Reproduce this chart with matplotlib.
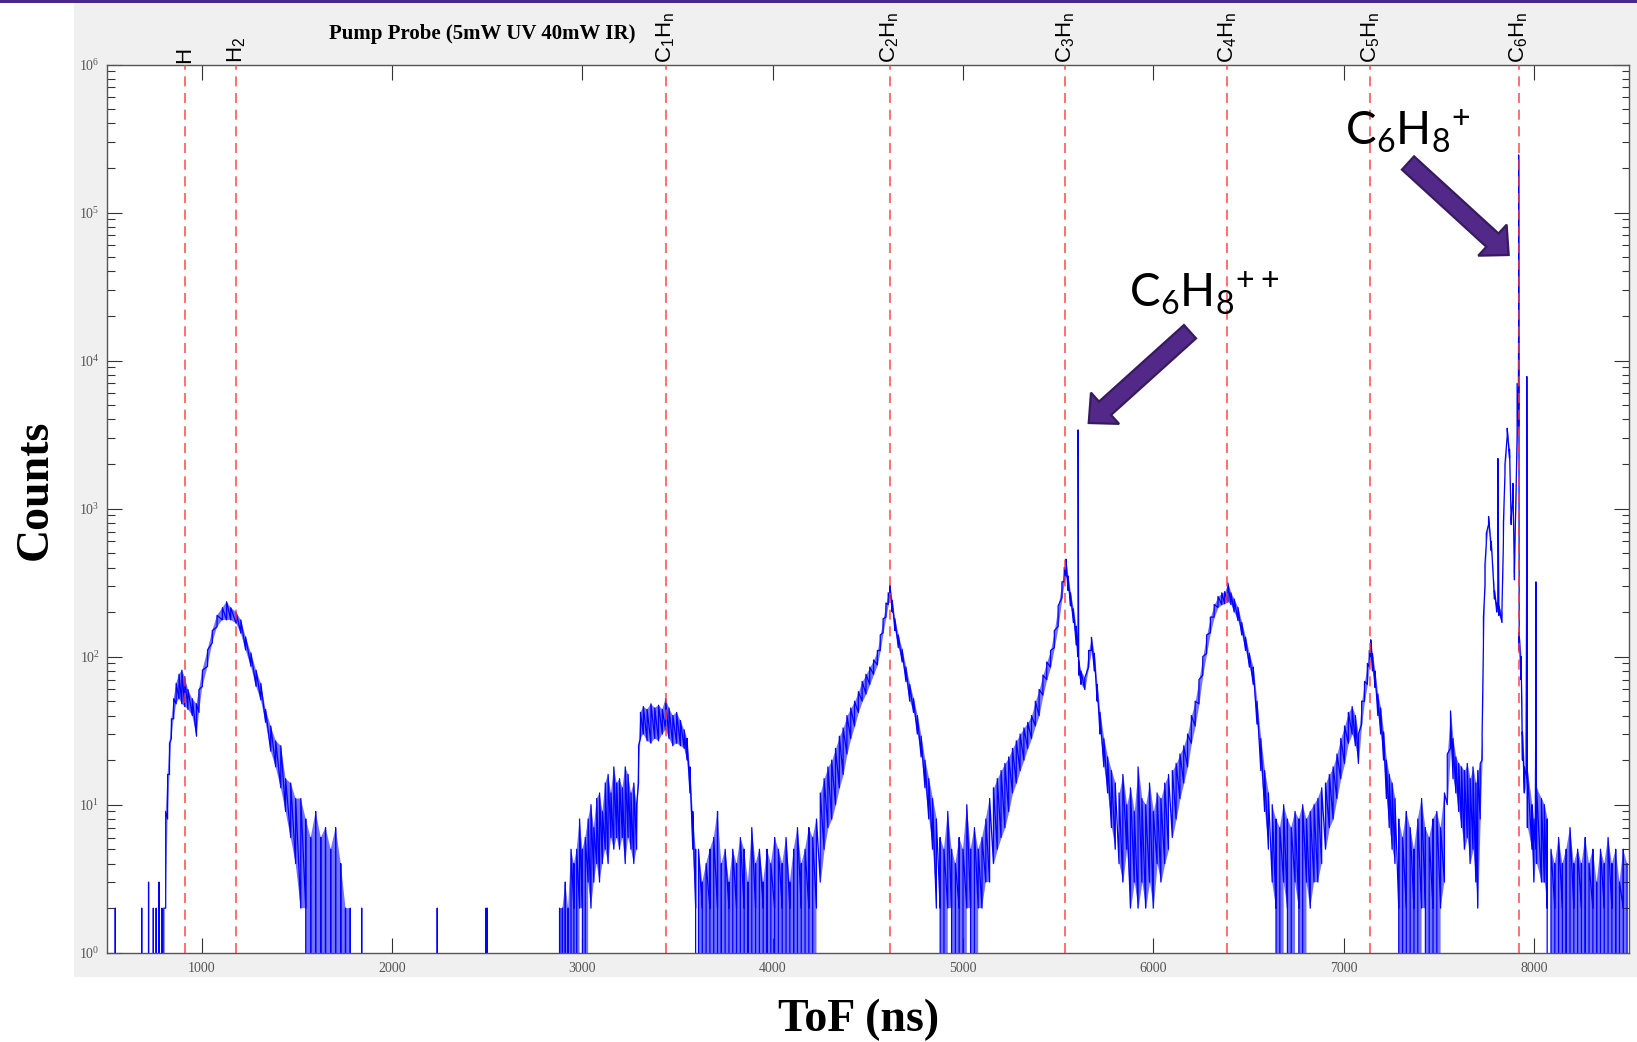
#!/usr/bin/env python3
"""
Pump-probe time-of-flight spectrum (5mW UV / 40mW IR).

Counts vs ToF on a log axis, with the H, H2 and CnHm fragment
positions marked and the C6H8+ / C6H8++ parent ions pointed out.
"""

import numpy as np
import matplotlib
matplotlib.use("Agg")
import matplotlib.pyplot as plt
from matplotlib.patches import FancyArrow, Rectangle
from matplotlib.ticker import LogLocator, NullFormatter

# Spectrum. For every ToF sample (ns) the upper and
# lower edge of the noise band in counts; 0 means an empty bin.

# single counts before the H edge
PRE_TOF = [545, 585, 684, 720, 745, 760, 775, 790, 800]
PRE_HI = [2, 0, 2, 3, 2, 2, 3, 2, 2]
PRE_LO = [0, 0, 0, 0, 0, 0, 0, 0, 0]

# H / H2 hump
H_TOF = [810, 820, 830, 840, 852, 865, 880, 895, 910, 927,
         950, 972, 985, 1003, 1030, 1055, 1080, 1108, 1130, 1152,
         1180, 1205, 1230, 1258, 1285, 1310, 1335, 1362, 1388, 1415,
         1440, 1467, 1493, 1520, 1546, 1572, 1598, 1625, 1650, 1677,
         1703, 1730, 1755, 1780]
H_HI = [9, 16, 26, 38, 52, 66, 76, 81, 73, 60,
        52, 48, 60, 81, 111, 150, 190, 214, 235, 214,
        200, 177, 136, 106, 81, 66, 44, 34, 27, 25,
        15, 14, 11, 11, 8, 6, 9, 6, 7, 5,
        7, 4, 2, 2]
H_LO = [2, 8, 16, 28, 38, 48, 52, 48, 46, 44,
        40, 29, 42, 63, 86, 124, 159, 177, 177, 177,
        168, 144, 111, 86, 63, 51, 36, 23, 18, 13,
        9, 6, 4, 2, 2, 0, 0, 0, 0, 0,
        0, 0, 0, 0]

# stray single counts in the empty stretch
STRAY_TOF = [1800, 1840, 1880, 2237, 2493, 2500, 2860]
STRAY_HI = [0, 2, 0, 2, 2, 2, 0]
STRAY_LO = [0, 0, 0, 0, 0, 0, 0]

# C1Hn plateau
C1_TOF = [2880, 2895, 2910, 2925, 2940, 2955, 2970, 2985, 3000, 3015,
          3030, 3045, 3060, 3075, 3090, 3105, 3120, 3135, 3150, 3165,
          3180, 3195, 3210, 3225, 3240, 3255, 3270, 3285, 3295, 3305,
          3320, 3340, 3360, 3380, 3400, 3420, 3437, 3455, 3475, 3495,
          3515, 3535, 3550, 3565, 3580, 3595]
C1_HI = [2, 2, 3, 2, 5, 4, 5, 8, 5, 6,
         8, 10, 7, 11, 12, 9, 14, 16, 12, 18,
         14, 15, 13, 18, 16, 12, 14, 10, 25, 42,
         46, 44, 48, 45, 47, 44, 52, 45, 40, 42,
         37, 32, 28, 18, 9, 5]
C1_LO = [0, 0, 0, 0, 0, 2, 0, 2, 2, 0,
         3, 2, 3, 4, 3, 4, 5, 4, 6, 5,
         6, 5, 6, 4, 6, 5, 4, 5, 14, 28,
         30, 27, 26, 28, 27, 30, 32, 28, 25, 26,
         25, 24, 20, 12, 5, 2]

# trough C1 -> C2
T1_TOF = [3610, 3630, 3650, 3670, 3690, 3710, 3730, 3750, 3770, 3790,
          3810, 3830, 3850, 3870, 3890, 3910, 3930, 3950, 3970, 3990,
          4010, 4030, 4050, 4070, 4090, 4110, 4130, 4150, 4170, 4190,
          4210, 4230]
T1_HI = [5, 3, 4, 5, 6, 9, 4, 5, 3, 5,
         4, 6, 5, 3, 7, 4, 5, 3, 5, 4,
         6, 5, 4, 6, 3, 5, 7, 4, 5, 7,
         6, 8]
T1_LO = [0, 2, 0, 2, 0, 2, 0, 0, 2, 0,
         2, 0, 2, 0, 0, 2, 0, 2, 0, 0,
         2, 0, 2, 0, 2, 0, 0, 2, 0, 2,
         0, 2]

# C2Hn peak
C2_TOF = [4250, 4270, 4290, 4310, 4330, 4350, 4370, 4390, 4410, 4430,
          4450, 4470, 4490, 4510, 4530, 4550, 4565, 4580, 4595, 4607,
          4616, 4628, 4642, 4660, 4680, 4700, 4720, 4740, 4760, 4780,
          4800, 4820, 4840, 4860]
C2_HI = [12, 15, 18, 20, 24, 29, 33, 40, 45, 50,
         58, 68, 76, 85, 95, 110, 140, 180, 230, 270,
         303, 240, 180, 140, 112, 85, 65, 52, 40, 29,
         20, 15, 11, 8]
C2_LO = [3, 5, 7, 8, 10, 13, 16, 22, 28, 34,
         42, 50, 56, 65, 76, 88, 110, 145, 185, 225,
         250, 200, 150, 115, 92, 68, 50, 42, 30, 21,
         13, 8, 5, 2]

# trough C2 -> C3
T2_TOF = [4880, 4900, 4920, 4940, 4960, 4980, 5000, 5020, 5040, 5060,
          5080, 5100, 5120, 5140]
T2_HI = [6, 5, 9, 5, 4, 6, 5, 10, 5, 7, 5, 6, 8, 11]
T2_LO = [2, 0, 2, 2, 0, 2, 0, 2, 2, 0, 2, 2, 3, 3]

# C3Hn peak with the C6H8++ line on its flank
C3_TOF = [5160, 5180, 5200, 5220, 5240, 5260, 5280, 5300, 5320, 5340,
          5360, 5380, 5400, 5420, 5440, 5460, 5480, 5500, 5520, 5532,
          5541, 5552, 5565, 5580, 5595, 5603, 5605, 5608, 5620, 5640,
          5660, 5675, 5690, 5705, 5720, 5740, 5760, 5780, 5800]
C3_HI = [13, 15, 17, 19, 21, 24, 27, 30, 33, 36,
         40, 50, 60, 75, 92, 110, 150, 220, 320, 400,
         455, 350, 270, 210, 160, 130, 3400, 95, 80, 72,
         110, 135, 105, 65, 42, 28, 21, 17, 14]
C3_LO = [4, 5, 6, 7, 9, 12, 14, 17, 20, 24,
         28, 34, 40, 55, 70, 85, 115, 160, 250, 320,
         350, 280, 220, 170, 120, 100, 100, 75, 65, 60,
         85, 110, 80, 50, 30, 18, 12, 7, 5]

# trough C3 -> C4
T3_TOF = [5820, 5840, 5860, 5880, 5900, 5920, 5940, 5960, 5980, 6000,
          6020, 6040, 6060, 6080]
T3_HI = [12, 16, 10, 13, 9, 18, 11, 10, 14, 9, 12, 11, 14, 16]
T3_LO = [4, 3, 5, 2, 3, 2, 3, 2, 3, 2, 4, 3, 4, 5]

# C4Hn peak
C4_TOF = [6100, 6120, 6140, 6160, 6180, 6200, 6220, 6240, 6260, 6280,
          6300, 6320, 6340, 6360, 6375, 6392, 6408, 6425, 6445, 6465,
          6485, 6505, 6525, 6545, 6565, 6585, 6605]
C4_HI = [17, 19, 22, 25, 30, 40, 50, 70, 100, 140,
         185, 225, 255, 270, 275, 315, 270, 245, 215, 170,
         135, 105, 85, 50, 28, 17, 12]
C4_LO = [6, 8, 11, 14, 18, 26, 34, 48, 75, 105,
         145, 185, 215, 225, 228, 235, 225, 200, 175, 140,
         110, 85, 65, 35, 17, 9, 5]

# trough C4 -> C5
T4_TOF = [6625, 6645, 6665, 6685, 6705, 6725, 6745, 6765, 6785, 6805,
          6825, 6845, 6865, 6885]
T4_HI = [10, 8, 7, 10, 8, 7, 9, 8, 10, 8, 9, 10, 11, 13]
T4_LO = [3, 2, 0, 3, 2, 0, 3, 2, 0, 3, 2, 3, 3, 4]

# C5Hn peak
C5_TOF = [6905, 6925, 6945, 6965, 6985, 7005, 7025, 7045, 7062, 7078,
          7095, 7110, 7125, 7135, 7143, 7152, 7165, 7180, 7195, 7210,
          7225, 7240, 7255, 7270]
C5_HI = [14, 16, 18, 22, 28, 34, 42, 46, 40, 30,
         50, 68, 90, 110, 130, 105, 80, 56, 45, 31,
         20, 16, 14, 11]
C5_LO = [5, 7, 8, 11, 15, 19, 26, 30, 25, 19,
         35, 50, 65, 85, 100, 80, 62, 40, 30, 20,
         11, 7, 5, 4]

# trough C5 -> C6
T5_TOF = [7290, 7310, 7330, 7350, 7370, 7390, 7410, 7430, 7450, 7470,
          7490, 7510, 7530]
T5_HI = [8, 6, 9, 7, 5, 8, 11, 7, 6, 8, 9, 7, 12]
T5_LO = [2, 0, 2, 0, 2, 0, 2, 2, 0, 2, 0, 2, 3]

# C6Hn group, C6H8+ parent line at ~7920 ns
C6_TOF = [7545, 7562, 7575, 7590, 7605, 7620, 7635, 7650, 7665, 7680,
          7695, 7705, 7718, 7728, 7735, 7743, 7750, 7762, 7776, 7793,
          7805, 7811, 7816, 7832, 7840, 7848, 7860, 7872, 7881, 7890,
          7898, 7912, 7920, 7923, 7933, 7940, 7950, 7963, 7966, 7990,
          8000, 8011, 8014, 8040, 8055, 8070]
C6_HI = [22, 43, 28, 21, 19, 18, 17, 19, 15, 18,
         14, 17, 19, 30, 185, 420, 680, 885, 600, 280,
         230, 2180, 220, 200, 800, 1990, 3490, 2520, 860, 1480,
         390, 7000, 245000, 145, 100, 31, 18, 7800, 17, 10,
         8, 320, 13, 11, 10, 8]
C6_LO = [10, 24, 15, 12, 9, 7, 5, 6, 4, 5,
         3, 2, 8, 20, 120, 300, 580, 780, 520, 245,
         200, 210, 190, 170, 600, 1700, 3100, 2200, 780, 1200,
         330, 3000, 3500, 110, 70, 20, 12, 15, 7, 5,
         3, 5, 4, 3, 3, 2]

# noise tail after the parent line
TAIL_TOF = [8090, 8110, 8130, 8150, 8170, 8190, 8210, 8230, 8250, 8270,
            8290, 8310, 8330, 8350, 8370, 8390, 8410, 8430, 8450, 8470,
            8490]
TAIL_HI = [5, 4, 6, 4, 5, 7, 4, 5, 4, 6, 4, 5, 3, 5, 4, 6, 4, 5, 3, 5, 4]
TAIL_LO = [0, 2, 0, 2, 0, 0, 2, 0, 2, 0, 0, 2, 0, 0, 2, 0, 2, 0, 0, 2, 0]

# fragment markers (ns) and their labels
MARK_TOF = [910, 1181, 3437, 4614, 5538, 6389, 7141, 7921]
MARK_LABELS = [r"H", r"$\mathregular{H_2}$",
               r"$\mathregular{C_1H_n}$", r"$\mathregular{C_2H_n}$",
               r"$\mathregular{C_3H_n}$", r"$\mathregular{C_4H_n}$",
               r"$\mathregular{C_5H_n}$", r"$\mathregular{C_6H_n}$"]

X_TICKS = [1000, 2000, 3000, 4000, 5000, 6000, 7000, 8000]
Y_DECADES = [0, 1, 2, 3, 4, 5, 6]

W, H = 1637, 1042
DPI = 100

# (tof, hi, lo, band is filled?)
REGIONS = [(PRE_TOF, PRE_HI, PRE_LO, False), (H_TOF, H_HI, H_LO, True),
           (STRAY_TOF, STRAY_HI, STRAY_LO, False),
           (C1_TOF, C1_HI, C1_LO, True), (T1_TOF, T1_HI, T1_LO, True),
           (C2_TOF, C2_HI, C2_LO, True), (T2_TOF, T2_HI, T2_LO, True),
           (C3_TOF, C3_HI, C3_LO, True), (T3_TOF, T3_HI, T3_LO, True),
           (C4_TOF, C4_HI, C4_LO, True), (T4_TOF, T4_HI, T4_LO, True),
           (C5_TOF, C5_HI, C5_LO, True), (T5_TOF, T5_HI, T5_LO, True),
           (C6_TOF, C6_HI, C6_LO, True), (TAIL_TOF, TAIL_HI, TAIL_LO, True)]


def collect_spectrum():
    """Stitch the regions together in ToF order."""
    tof, hi, lo = [], [], []
    for t, h, l, _ in REGIONS:
        assert len(t) == len(h) == len(l), (t[0], len(t), len(h), len(l))
        tof += t
        hi += h
        lo += l
    tof = np.array(tof, dtype=float)
    assert np.all(np.diff(tof) > 0)
    return tof, np.array(hi, dtype=float), np.array(lo, dtype=float)


def px(x, y):
    """Reference pixel (top-left origin) -> inches for dpi_scale_trans."""
    return x / DPI, (H - y) / DPI


def draw_background(fig):
    """MATLAB-ish grey figure panel with the slide's purple rule on top."""
    fig.add_artist(Rectangle((74 / W, 1 - 977 / H), 1 - 74 / W, 974 / H,
                             transform=fig.transFigure, facecolor="#f0f0f0",
                             edgecolor="none", zorder=-10))
    fig.add_artist(Rectangle((0, 1 - 2.5 / H), 1, 2.5 / H,
                             transform=fig.transFigure, facecolor="#4b2a86",
                             edgecolor="none", zorder=-9))


def add_arrow(fig, tail, tip):
    x0, y0 = px(*tail)
    x1, y1 = px(*tip)
    arrow = FancyArrow(x0, y0, x1 - x0, y1 - y0, width=0.18,
                       head_width=0.42, head_length=0.22,
                       length_includes_head=True,
                       transform=fig.dpi_scale_trans,
                       facecolor="#522889", edgecolor="#361b5e",
                       linewidth=1.6, zorder=20)
    fig.add_artist(arrow)


def main():
    plt.rcParams["font.family"] = ["Liberation Serif", "DejaVu Serif"]

    tof, hi, lo = collect_spectrum()

    fig = plt.figure(figsize=(W / DPI, H / DPI), dpi=DPI)
    fig.patch.set_facecolor("white")
    draw_background(fig)

    ax = fig.add_axes([106.7 / W, 1 - 952.7 / H, 1522.3 / W, 888.2 / H])
    ax.set_facecolor("white")
    ax.set_yscale("log", nonpositive="clip")

    # the noise band between its edges, where the trace is dense
    for t, h, l, filled in REGIONS:
        if filled:
            ax.fill_between(t, l, h, color="#0000ff", alpha=0.55,
                            linewidth=0, zorder=1)

    # each sample drawn as a stroke from the lower to the upper band edge
    xs = np.repeat(tof, 2)
    ys = np.column_stack([lo, hi]).ravel()
    ax.plot(xs, ys, color="#0000ff", lw=0.9, zorder=2)

    for t in MARK_TOF:
        ax.axvline(t, color="#ff3a3a", lw=1.2, alpha=0.85,
                   linestyle=(0, (6, 4)), zorder=3)

    ax.set_xlim(500, 8500)
    ax.set_ylim(1, 1e6)

    ax.set_xticks(X_TICKS, [str(v) for v in X_TICKS])
    ax.set_yticks([10.0 ** k for k in Y_DECADES],
                  [r"$\mathregular{10^{%d}}$" % k for k in Y_DECADES])
    ax.yaxis.set_minor_locator(LogLocator(base=10, subs=range(2, 10)))
    ax.yaxis.set_minor_formatter(NullFormatter())
    ax.tick_params(which="both", direction="in", top=True, right=True,
                   color="#333333", width=0.8, labelsize=10,
                   labelcolor="#555555")
    ax.tick_params(which="major", length=10.8)
    ax.tick_params(which="minor", length=5.4)
    ax.tick_params(axis="x", pad=7)
    ax.tick_params(axis="y", pad=5)
    for side in ax.spines.values():
        side.set_color("#555555")
        side.set_linewidth(1.0)

    # rotated fragment labels above the frame
    for t, lab in zip(MARK_TOF, MARK_LABELS):
        ax.annotate(lab, xy=(t, 1), xycoords=("data", "axes fraction"),
                    xytext=(0, 1.2), textcoords="offset points",
                    rotation=90, ha="center", va="bottom",
                    fontsize=16, family="Liberation Sans")

    ax.annotate("Pump Probe (5mW UV 40mW IR)", xy=(2472, 1),
                xycoords=("data", "axes fraction"), xytext=(0, 18.4),
                textcoords="offset points", ha="center", va="baseline",
                fontsize=15, fontweight="bold")

    fig.text(36 / W, 1 - 490 / H, "Counts", rotation=90, ha="center",
             va="center", fontsize=33, fontweight="bold")
    fig.text(859 / W, 1 - 1031 / H, "ToF (ns)", ha="center",
             va="baseline", fontsize=33, fontweight="bold")

    # ion call-outs; the empty group puts the charge after the subscript
    fig.text(1129 / W, 1 - 308 / H, r"$\mathregular{C_6H_8{}^{++}}$",
             family="Lato", fontsize=33, va="baseline", ha="left")
    fig.text(1345 / W, 1 - 146 / H, r"$\mathregular{C_6H_8{}^{+}}$",
             family="Lato", fontsize=33, va="baseline", ha="left")
    add_arrow(fig, (1190, 331.7), (1088.7, 423))
    add_arrow(fig, (1408, 163), (1508.7, 255))

    fig.savefig("out.png", dpi=DPI)
    plt.close(fig)


if __name__ == "__main__":
    main()
